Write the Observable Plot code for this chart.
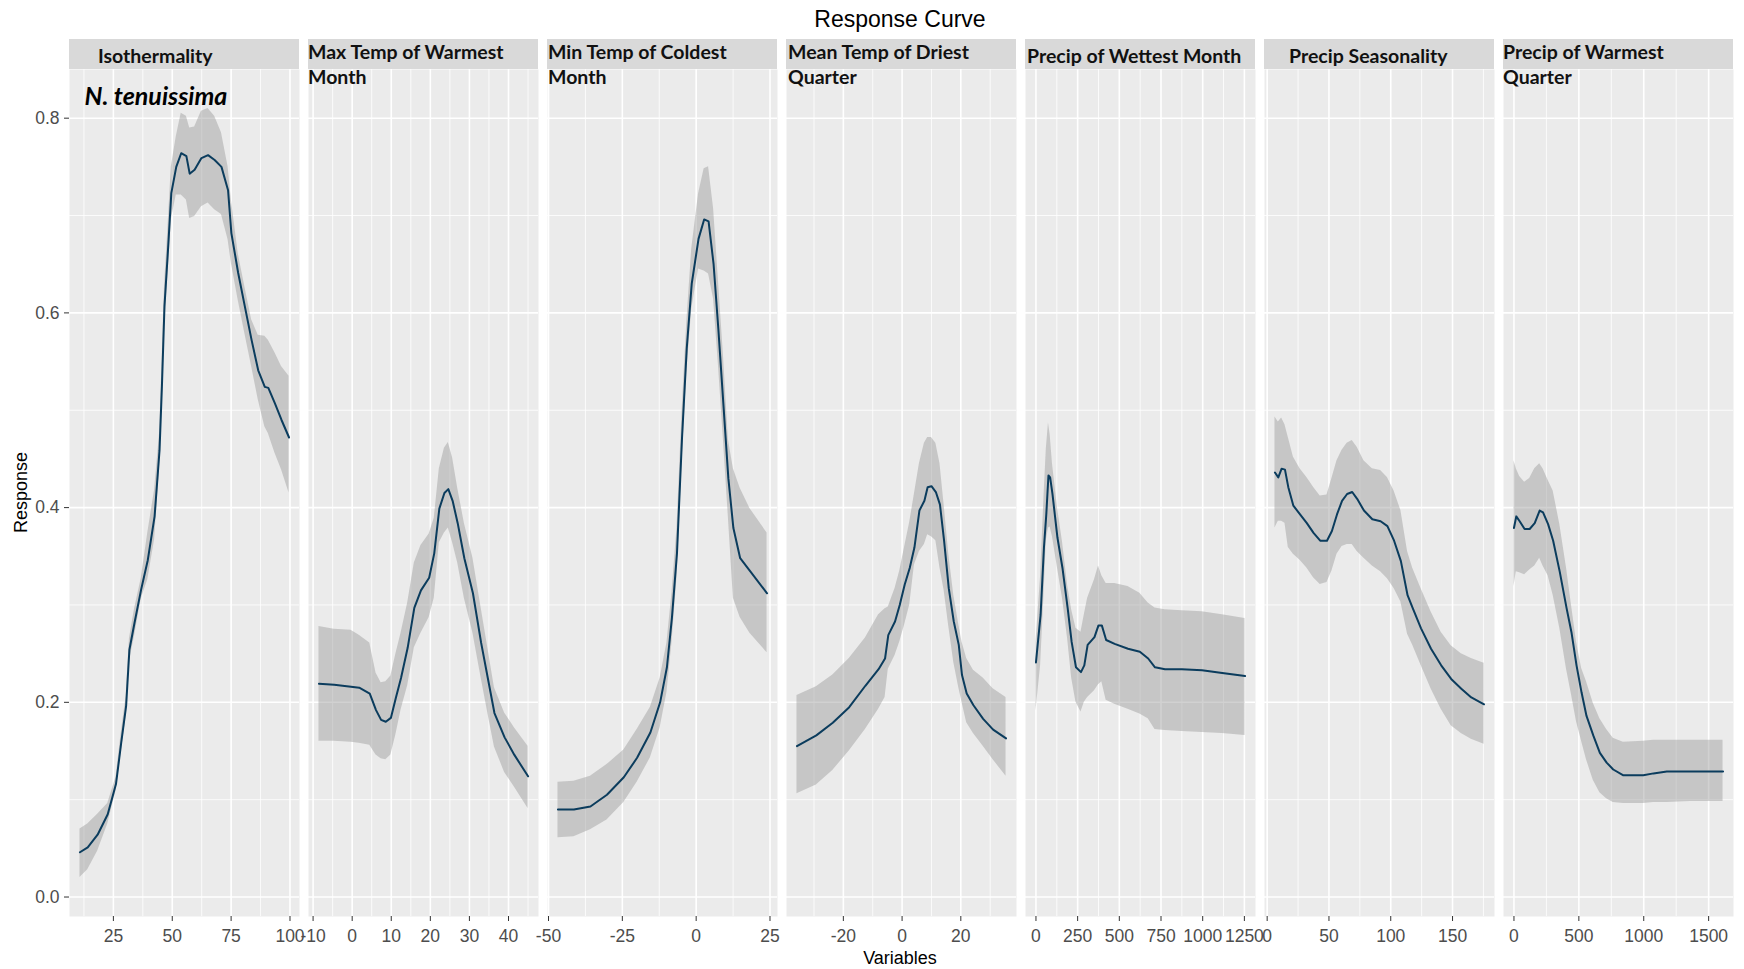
<!DOCTYPE html>
<html>
<head>
<meta charset="utf-8">
<script src="https://cdn.jsdelivr.net/npm/d3@7"></script>
<script src="https://cdn.jsdelivr.net/npm/@observablehq/plot@0.6"></script>
<style>
  body { margin: 0; background: #fff; }
  #chart { position: relative; width: 1744px; height: 969px; font-family: "Liberation Sans", Arial, sans-serif; overflow: hidden; }
  .strip { position: absolute; top: 39px; height: 30px; background: #D9D9D9; }
  .striptext { position: absolute; font-family: Lato, "Noto Sans", sans-serif; font-weight: bold; font-size: 19.5px; line-height: 24.5px; color: #111; white-space: nowrap; }
  .title { position: absolute; font-size: 23px; color: #000; white-space: nowrap; }
  .axtitle { position: absolute; font-size: 18px; color: #000; white-space: nowrap; }
  .panel { position: absolute; top: 69px; }
  .panel svg { overflow: visible; }
</style>
</head>
<body>
<div id="chart"></div>
<script>
// ---------------- data ----------------
const panelNames = [
  "Isothermality",
  "Max Temp of Warmest|Month",
  "Min Temp of Coldest|Month",
  "Mean Temp of Driest|Quarter",
  "Precip of Wettest Month",
  "Precip Seasonality",
  "Precip of Warmest|Quarter"
];

// Isothermality
const isoX   = [10.8,14.1,18.3,22.6,26.1,28.3,30.4,31.8,34.0,36.8,39.6,42.5,44.6,45.6,46.7,48.2,49.6,51.7,53.8,56.0,57.4,59.5,62.4,65.2,68.0,70.9,73.7,75.1,78.0,80.8,83.7,86.5,89.3,90.8,93.6,96.4,99.6];
const isoFit = [0.046,0.051,0.064,0.085,0.116,0.158,0.196,0.254,0.282,0.316,0.346,0.391,0.459,0.524,0.607,0.665,0.723,0.750,0.764,0.761,0.743,0.747,0.759,0.762,0.757,0.750,0.726,0.682,0.641,0.607,0.572,0.541,0.524,0.523,0.507,0.490,0.472];
const isoLo  = [0.020,0.028,0.047,0.075,0.109,0.148,0.186,0.242,0.268,0.306,0.326,0.367,0.442,0.510,0.586,0.641,0.696,0.721,0.721,0.716,0.697,0.699,0.709,0.713,0.706,0.701,0.675,0.651,0.613,0.579,0.545,0.511,0.483,0.476,0.456,0.439,0.415];
const isoHi  = [0.070,0.075,0.085,0.096,0.123,0.168,0.206,0.265,0.296,0.327,0.374,0.418,0.476,0.545,0.627,0.689,0.750,0.781,0.805,0.802,0.790,0.791,0.807,0.810,0.802,0.785,0.750,0.716,0.661,0.627,0.593,0.577,0.576,0.572,0.559,0.545,0.535];

// Max Temp of Warmest Month
const maxtX   = [-8.5,-4.6,-0.3,1.8,4.5,6.1,7.4,8.6,9.9,11.2,12.5,14.2,15.9,17.6,19.7,21.0,22.3,23.6,24.6,25.7,27.0,28.7,30.9,33.0,34.7,36.4,39.0,41.5,45.0];
const maxtFit = [0.219,0.218,0.216,0.215,0.209,0.192,0.182,0.180,0.184,0.205,0.225,0.256,0.297,0.315,0.328,0.353,0.399,0.415,0.419,0.407,0.384,0.348,0.312,0.261,0.225,0.189,0.164,0.146,0.124];
const maxtLo  = [0.160,0.160,0.159,0.158,0.156,0.146,0.142,0.141,0.146,0.167,0.192,0.217,0.256,0.271,0.287,0.307,0.364,0.374,0.379,0.364,0.343,0.307,0.271,0.225,0.189,0.154,0.128,0.113,0.091];
const maxtHi  = [0.278,0.275,0.274,0.269,0.261,0.230,0.220,0.221,0.227,0.250,0.271,0.302,0.343,0.361,0.373,0.389,0.440,0.461,0.467,0.451,0.420,0.384,0.348,0.297,0.256,0.215,0.189,0.174,0.155];

// Min Temp of Coldest Month
const mintX   = [-46.8,-41.4,-35.8,-30.2,-24.5,-20.0,-15.5,-12.2,-9.9,-8.2,-6.5,-4.8,-3.2,-1.5,0.8,2.7,4.2,5.9,7.5,9.2,10.9,12.6,14.9,18.2,24.0];
const mintFit = [0.090,0.090,0.093,0.105,0.123,0.143,0.169,0.200,0.236,0.287,0.353,0.471,0.563,0.630,0.676,0.696,0.694,0.650,0.584,0.507,0.430,0.379,0.348,0.335,0.312];
const mintLo  = [0.061,0.062,0.069,0.079,0.097,0.118,0.143,0.174,0.210,0.261,0.328,0.446,0.538,0.604,0.645,0.643,0.640,0.614,0.548,0.471,0.390,0.307,0.287,0.271,0.251];
const mintHi  = [0.118,0.119,0.124,0.136,0.151,0.172,0.195,0.225,0.261,0.312,0.379,0.497,0.589,0.666,0.722,0.748,0.750,0.707,0.635,0.558,0.470,0.440,0.420,0.399,0.374];

// Mean Temp of Driest Quarter
const meantX   = [-35.8,-29.2,-23.6,-18.0,-12.5,-8.0,-5.8,-4.7,-2.4,-0.8,0.9,2.6,4.2,5.9,7.6,8.7,10.0,11.5,12.9,14.3,15.9,17.6,19.3,20.4,22.0,24.3,27.6,31.0,35.4];
const meantFit = [0.155,0.166,0.179,0.195,0.217,0.234,0.245,0.269,0.283,0.300,0.321,0.338,0.359,0.397,0.407,0.421,0.422,0.416,0.403,0.366,0.317,0.283,0.259,0.228,0.209,0.197,0.183,0.172,0.163];
const meantLo  = [0.106,0.115,0.130,0.150,0.172,0.193,0.205,0.234,0.248,0.262,0.280,0.300,0.341,0.355,0.362,0.372,0.370,0.366,0.338,0.315,0.278,0.241,0.215,0.200,0.179,0.168,0.155,0.141,0.124];
const meantHi  = [0.207,0.216,0.228,0.245,0.266,0.290,0.296,0.298,0.317,0.335,0.360,0.385,0.414,0.445,0.466,0.472,0.472,0.466,0.445,0.403,0.352,0.310,0.280,0.262,0.245,0.233,0.225,0.214,0.205];

// Precip of Wettest Month
const pwmX   = [0,28,48,62,75,85,99,129,159,190,214,240,270,290,310,351,375,395,421,472,552,623,673,714,774,875,996,1117,1254];
const pwmFit = [0.241,0.290,0.359,0.393,0.433,0.431,0.414,0.369,0.338,0.297,0.262,0.236,0.231,0.238,0.259,0.267,0.279,0.279,0.264,0.260,0.255,0.252,0.245,0.236,0.234,0.234,0.233,0.230,0.227];
const pwmLo  = [0.191,0.238,0.310,0.366,0.379,0.380,0.370,0.338,0.307,0.265,0.225,0.200,0.190,0.200,0.205,0.212,0.218,0.221,0.202,0.198,0.193,0.188,0.183,0.172,0.171,0.170,0.169,0.168,0.166];
const pwmHi  = [0.262,0.330,0.410,0.460,0.487,0.475,0.445,0.400,0.365,0.320,0.295,0.276,0.272,0.290,0.307,0.326,0.340,0.330,0.322,0.322,0.319,0.312,0.302,0.297,0.295,0.294,0.293,0.290,0.286];

// Precip Seasonality
const psX   = [6.3,9.0,11.7,14.4,17.1,21.2,26.6,32.1,37.5,42.9,48.4,52.4,56.5,60.6,64.7,68.8,72.8,78.3,85.1,91.8,97.3,102.7,108.2,113.6,117.7,124.5,132.6,140.8,148.9,157.1,165.2,175.5];
const psFit = [0.436,0.431,0.440,0.439,0.421,0.402,0.393,0.384,0.374,0.366,0.366,0.376,0.393,0.407,0.414,0.416,0.409,0.397,0.388,0.386,0.381,0.366,0.345,0.310,0.297,0.276,0.255,0.238,0.224,0.214,0.205,0.198];
const psLo  = [0.379,0.386,0.386,0.384,0.359,0.352,0.346,0.338,0.328,0.321,0.323,0.335,0.352,0.360,0.362,0.362,0.355,0.348,0.340,0.334,0.327,0.317,0.303,0.270,0.259,0.238,0.214,0.193,0.176,0.168,0.162,0.157];
const psHi  = [0.493,0.488,0.492,0.485,0.472,0.452,0.440,0.431,0.421,0.412,0.413,0.430,0.448,0.459,0.466,0.469,0.462,0.448,0.440,0.438,0.431,0.417,0.397,0.355,0.338,0.317,0.293,0.272,0.258,0.250,0.245,0.240];

// Precip of Warmest Quarter
const pwqX   = [0,18,44,82,121,160,198,224,263,302,353,405,443,482,521,559,611,662,714,765,843,997,1075,1178,1358,1611];
const pwqFit = [0.379,0.391,0.386,0.378,0.378,0.384,0.397,0.395,0.383,0.366,0.334,0.297,0.272,0.238,0.210,0.186,0.166,0.148,0.138,0.131,0.125,0.125,0.127,0.129,0.129,0.129];
const pwqLo  = [0.319,0.334,0.333,0.331,0.336,0.340,0.348,0.340,0.330,0.310,0.276,0.234,0.208,0.180,0.160,0.141,0.120,0.107,0.101,0.097,0.096,0.096,0.097,0.097,0.098,0.098];
const pwqHi  = [0.448,0.440,0.432,0.426,0.430,0.440,0.445,0.440,0.428,0.417,0.383,0.338,0.300,0.262,0.235,0.221,0.199,0.183,0.172,0.163,0.159,0.160,0.161,0.161,0.161,0.161];

// tick values
const xMajor = [[25,50,75,100],[-10,0,10,20,30,40],[-50,-25,0,25],[-20,0,20],[0,250,500,750,1000,1250],[0,50,100,150],[0,500,1000,1500]];
const xMinor = [[12.5,37.5,62.5,87.5],[-5,5,15,25,35,45],[-37.5,-12.5,12.5],[-30,-10,10,30],[125,375,625,875,1125],[25,75,125,175],[250,750,1250]];
const yMajor = [0,0.2,0.4,0.6,0.8];
const yMinor = [0.1,0.3,0.5,0.7];

// ---------------- build ----------------
const series = [
  [isoX, isoFit, isoLo, isoHi],
  [maxtX, maxtFit, maxtLo, maxtHi],
  [mintX, mintFit, mintLo, mintHi],
  [meantX, meantFit, meantLo, meantHi],
  [pwmX, pwmFit, pwmLo, pwmHi],
  [psX, psFit, psLo, psHi],
  [pwqX, pwqFit, pwqLo, pwqHi]
];

const chart = document.getElementById("chart");
const PANEL_W = 230, GAP = 9, LEFT0 = 69, PANEL_H = 847;
const stripOffset = [29, 0, 1, 2, 2, 25, 0];

function add(html, cls, style) {
  const d = document.createElement("div");
  d.className = cls;
  Object.assign(d.style, style);
  d.innerHTML = html;
  chart.appendChild(d);
  return d;
}

add("Response Curve", "title", {left: "0px", width: "1800px", textAlign: "center", top: "6px"});

series.forEach(([xs, fit, lo, hi], i) => {
  const rows = xs.map((x, k) => ({x, fit: fit[k], lo: lo[k], hi: hi[k]}));
  const ext = d3.extent(xs);
  const pad = (ext[1] - ext[0]) * 0.05;
  const first = i === 0;
  const ml = first ? 69 : 0;
  const left = LEFT0 + i * (PANEL_W + GAP);

  const marks = [
    Plot.frame({fill: "#EBEBEB", stroke: null}),
    Plot.gridX(xMinor[i], {stroke: "#fff", strokeOpacity: 1, strokeWidth: 0.8}),
    Plot.gridY(yMinor, {stroke: "#fff", strokeOpacity: 1, strokeWidth: 0.8}),
    Plot.gridX(xMajor[i], {stroke: "#fff", strokeOpacity: 1, strokeWidth: 1.6}),
    Plot.gridY(yMajor, {stroke: "#fff", strokeOpacity: 1, strokeWidth: 1.6}),
    Plot.areaY(rows, {x: "x", y1: "lo", y2: "hi", fill: "#999999", fillOpacity: 0.45}),
    Plot.lineY(rows, {x: "x", y: "fit", stroke: "#0B3C5D", strokeWidth: 2}),
    Plot.axisX(xMajor[i], {tickSize: 5, tickPadding: 8, stroke: "#333333", fill: "#4D4D4D", fontSize: 17.5, label: null, tickFormat: d => String(d)})
  ];
  if (first) {
    marks.push(Plot.axisY(yMajor, {tickSize: 5, tickPadding: 5, stroke: "#333333", fill: "#4D4D4D", fontSize: 17.5, label: null, tickFormat: d3.format(".1f")}));
    marks.push(Plot.text(["N. tenuissima"], {frameAnchor: "top-left", dx: 15, dy: 18, fontSize: 25, fontWeight: "bold", fontStyle: "italic", fontFamily: "Lato", fill: "#000", textAnchor: "start"}));
  }

  const svg = Plot.plot({
    width: PANEL_W + ml,
    height: PANEL_H + 50,
    marginLeft: ml, marginRight: 0, marginTop: 0, marginBottom: 50,
    style: {background: "transparent", overflow: "visible", fontFamily: "'Liberation Sans', Arial, sans-serif"},
    x: {domain: [ext[0] - pad, ext[1] + pad], axis: null},
    y: {domain: [-0.02, 0.85], axis: null},
    marks
  });
  const holder = add("", "panel", {left: (left - ml) + "px"});
  holder.appendChild(svg);

  add("", "strip", {left: left + "px", width: PANEL_W + "px"});
  const lines = panelNames[i].split("|");
  add(lines.join("<br>"), "striptext", {left: (left + stripOffset[i]) + "px", top: (lines.length > 1 ? 40 : 44) + "px"});
});

add("Variables", "axtitle", {left: "0px", width: "1800px", textAlign: "center", top: "948px"});
add("Response", "axtitle", {left: "-19px", top: "482px", transform: "rotate(-90deg)", transformOrigin: "center"});
</script>
</body>
</html>
